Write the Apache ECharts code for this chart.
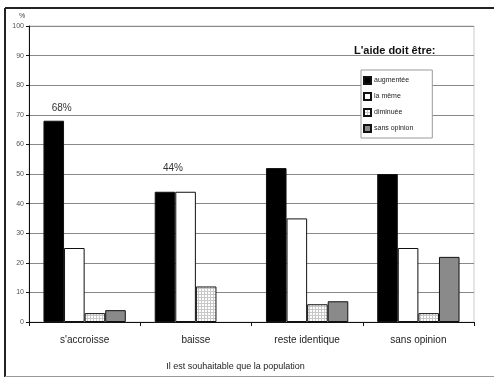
<!DOCTYPE html>
<html>
<head>
<meta charset="utf-8">
<script src="https://cdn.jsdelivr.net/npm/echarts@6/dist/echarts.min.js"></script>
<style>
  html, body { margin: 0; padding: 0; background: #fff; }
  #chart { width: 494px; height: 378px; }
</style>
</head>
<body>
<div id="chart"></div>
<script>
// Survey results: how aid should evolve, by expected population trend (%)
const categories = ["s'accroisse", "baisse", "reste identique", "sans opinion"];
const seriesNames = ["augmentée", "la même", "diminuée", "sans opinion"];
const augmentee = [68, 44, 52, 50];
const laMeme = [25, 44, 35, 25];
const diminuee = [3, 12, 6, 3];
const sansOpinion = [4, null, 7, 22];
const yTicks = [0, 10, 20, 30, 40, 50, 60, 70, 80, 90, 100];
const labelledIdx = [0, 1];

// light checkered fill for the "diminuée" bars
function checkerPattern() {
  const c = document.createElement('canvas');
  c.width = 3; c.height = 3;
  const g = c.getContext('2d');
  g.fillStyle = '#ffffff';
  g.fillRect(0, 0, 3, 3);
  g.fillStyle = '#c8c8c8';
  g.fillRect(0, 0, 3, 1);
  g.fillRect(0, 0, 1, 3);
  return c;
}

const chart = echarts.init(document.getElementById('chart'), null, { renderer: 'canvas' });
const FONT = 'Liberation Sans, Arial, sans-serif';
const labelOffsets = [[8, -2], [8, -14]];

const blackData = augmentee.map((v, i) => labelledIdx.includes(i) ? {
  value: v,
  label: { show: true, position: 'top', offset: labelOffsets[i], formatter: '{c}%',
           fontSize: 10, color: '#333', fontFamily: FONT }
} : v);

const border = { borderColor: '#111', borderWidth: 1 };

chart.setOption({
  animation: false,
  backgroundColor: '#fff',
  textStyle: { fontFamily: FONT },
  title: {
    text: "L'aide doit être:",
    left: 349, top: 40,
    textStyle: { fontSize: 11, fontWeight: 'bold', color: '#111', fontFamily: FONT }
  },
  legend: {
    orient: 'vertical',
    left: 361, top: 70,
    padding: [6, 19, 5, 2],
    icon: 'rect',
    itemWidth: 7, itemHeight: 7, itemGap: 7,
    backgroundColor: '#fff',
    borderColor: '#999', borderWidth: 1,
    textStyle: { fontSize: 7, lineHeight: 8, color: '#222', padding: [0, 0, 0, -2] },
    data: seriesNames
  },
  grid: { left: 29, right: 20, top: 26, bottom: 56, show: true, borderColor: '#ccc', borderWidth: 1 },
  xAxis: {
    type: 'category',
    data: categories,
    axisLine: { lineStyle: { color: '#111', width: 1 } },
    axisTick: { show: true, length: 4, lineStyle: { color: '#111' } },
    axisLabel: { fontSize: 10, color: '#222', margin: 13 },
    name: 'Il est souhaitable que la population',
    nameLocation: 'middle',
    nameGap: 40,
    nameTextStyle: { fontSize: 9, color: '#222', padding: [0, 32, 0, 0] }
  },
  yAxis: {
    type: 'value',
    min: yTicks[0], max: yTicks[yTicks.length - 1], interval: 10,
    name: '%',
    nameLocation: 'end',
    nameGap: 6,
    nameTextStyle: { fontSize: 7, color: '#444', padding: [0, 14, 0, 0] },
    axisLine: { show: true, lineStyle: { color: '#111', width: 1 } },
    axisTick: { show: true, length: 3, lineStyle: { color: '#111' } },
    axisLabel: { fontSize: 7, color: '#555', margin: 5 },
    splitLine: { lineStyle: { color: '#888', width: 1 } }
  },
  series: [
    { name: seriesNames[0], type: 'bar', data: blackData, barGap: '0%', barCategoryGap: '26%',
      itemStyle: Object.assign({ color: '#000' }, border) },
    { name: seriesNames[1], type: 'bar', data: laMeme,
      itemStyle: Object.assign({ color: '#fff' }, border) },
    { name: seriesNames[2], type: 'bar', data: diminuee,
      itemStyle: Object.assign({ color: { image: checkerPattern(), repeat: 'repeat' } }, border) },
    { name: seriesNames[3], type: 'bar', data: sansOpinion,
      itemStyle: Object.assign({ color: '#8a8a8a' }, border) }
  ],
  graphic: [
    { type: 'line', shape: { x1: 5, y1: 8, x2: 494, y2: 8 }, style: { stroke: '#222', lineWidth: 2 } },
    { type: 'line', shape: { x1: 5, y1: 8, x2: 5, y2: 377 }, style: { stroke: '#222', lineWidth: 2 } },
    { type: 'line', shape: { x1: 5, y1: 376.5, x2: 494, y2: 376.5 }, style: { stroke: '#999', lineWidth: 1 } }
  ]
});
</script>
</body>
</html>
